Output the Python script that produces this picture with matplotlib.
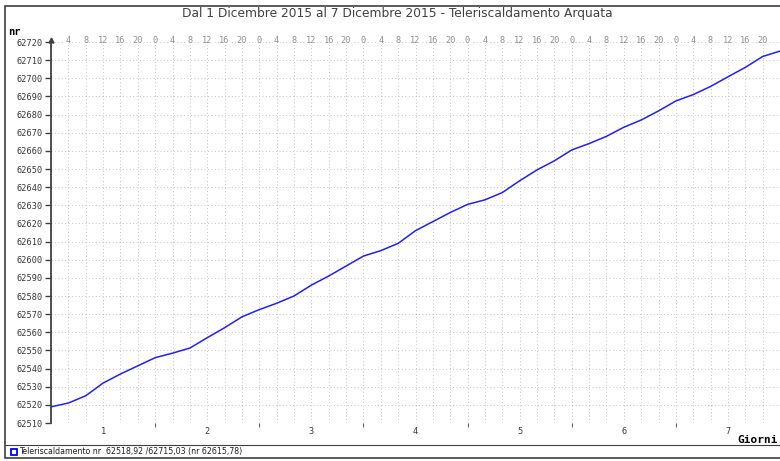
import matplotlib
matplotlib.use("Agg")
import matplotlib.pyplot as plt
from matplotlib.patches import Rectangle
from matplotlib.lines import Line2D

# letture ogni 4 ore, dal 1/12 ore 0 al 7/12 ore 24
ore = list(range(0, 169, 4))
valori = [
    62518.9, 62521.0, 62525.0, 62532.0, 62537.0, 62541.5,
    62546.0, 62548.5, 62551.3, 62557.0, 62562.5, 62568.5,
    62572.5, 62576.0, 62580.0, 62586.0, 62591.0, 62596.5,
    62602.0, 62605.0, 62609.0, 62616.0, 62621.0, 62626.0,
    62630.5, 62633.0, 62637.0, 62643.5, 62649.5, 62654.5,
    62660.5, 62664.0, 62668.0, 62673.0, 62677.0, 62682.0,
    62687.5, 62691.0, 62695.5, 62700.8, 62706.0, 62712.0,
    62715.0,
]
giorni = ["1", "2", "3", "4", "5", "6", "7"]
etichette_ore = ["0", "4", "8", "12", "16", "20"]
titolo = "Dal 1 Dicembre 2015 al 7 Dicembre 2015 - Teleriscaldamento Arquata"
legenda = "Teleriscaldamento nr  62518,92 /62715,03 (nr 62615,78)"

fig = plt.figure(figsize=(7.8, 4.61), dpi=100)
ax = fig.add_axes([51 / 780, 1 - 423 / 461, 729 / 780, 381 / 461])

ax.plot(ore, valori, color="#2020f0", lw=1.1)

ax.set_xlim(0, 168)
ax.set_ylim(62510, 62720)

# griglia tratteggiata
for h in range(4, 168, 4):
    ax.axvline(h, color="#c4c4c4", lw=0.7, ls=(0, (1, 2.5)), zorder=0)
for v in range(62510, 62721, 10):
    ax.axhline(v, color="#c4c4c4", lw=0.7, ls=(0, (1, 2.5)), zorder=0)

for s in ["top", "right", "bottom"]:
    ax.spines[s].set_visible(False)
ax.spines["left"].set_color("#404040")
ax.spines["left"].set_linewidth(1.3)

ax.set_yticks(range(62510, 62721, 10))
ax.tick_params(axis="y", direction="out", length=4, width=1, color="#404040",
               labelsize=6.2, labelcolor="#383838", pad=2)
for lab in ax.get_yticklabels():
    lab.set_family("DejaVu Sans Mono")

ax.set_xticks([12 + 24 * i for i in range(7)], giorni)
ax.set_xticks(range(24, 168, 24), minor=True)
ax.tick_params(axis="x", which="major", length=0, labelsize=6.2,
               labelcolor="#383838", pad=3)
ax.tick_params(axis="x", which="minor", length=3, width=0.8, color="#606060")
for lab in ax.get_xticklabels():
    lab.set_family("DejaVu Sans Mono")

# ore in alto
for h in range(4, 168, 4):
    ax.text(h, 62721, etichette_ore[(h // 4) % 6], ha="center", va="center",
            fontsize=6.2, color="#909090", family="DejaVu Sans Mono",
            bbox=dict(facecolor="white", edgecolor="none", pad=0.5))

ax.plot(0, 62721, marker="^", ms=3.5, color="#404040", clip_on=False)

fig.text(397 / 780, 1 - 14 / 461, titolo, ha="center", va="center",
         fontsize=8.8, color="#404040")
fig.text(8 / 780, 1 - 32 / 461, "nr", ha="left", va="center", fontsize=7.5,
         fontweight="bold", family="DejaVu Sans Mono")
fig.text(778 / 780, 1 - 440 / 461, "Giorni", ha="right", va="center",
         fontsize=8, fontweight="bold", family="DejaVu Sans Mono")

# cornice e legenda
fig.patches.append(Rectangle((5 / 780, 1 - 458 / 461), 776 / 780, 452 / 461,
                             transform=fig.transFigure, fill=False,
                             edgecolor="#404040", lw=1.2))
fig.lines.append(Line2D([5 / 780, 1], [1 - 445 / 461] * 2,
                        transform=fig.transFigure, color="#404040", lw=0.8))
fig.patches.append(Rectangle((11 / 780, 1 - 455 / 461), 6 / 780, 6 / 461,
                             transform=fig.transFigure, fill=False,
                             edgecolor="#0000ff", lw=1.3))
fig.text(19 / 780, 1 - 451.5 / 461, legenda, ha="left", va="center",
         fontsize=5.7, color="#202020")

fig.savefig("out.png", dpi=100)
